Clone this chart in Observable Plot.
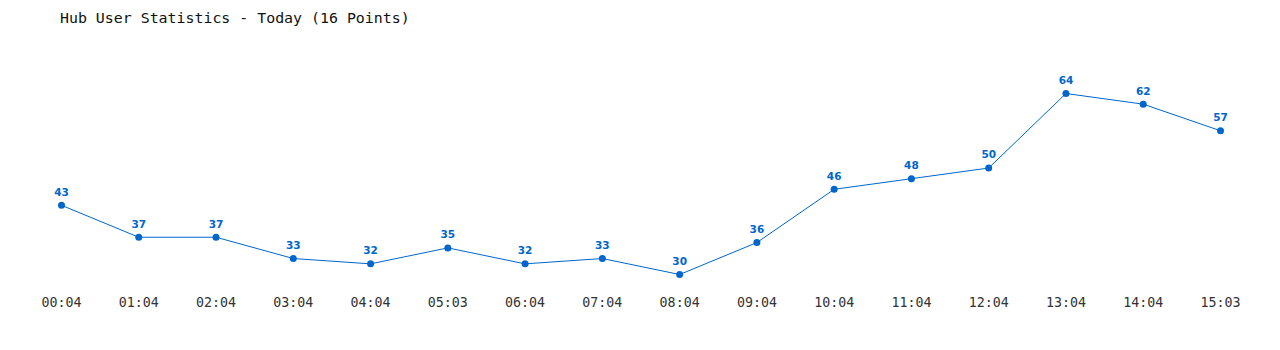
<!DOCTYPE html>
<html>
<head>
<meta charset="utf-8">
<script src="https://cdn.jsdelivr.net/npm/d3@7"></script>
<script src="https://cdn.jsdelivr.net/npm/@observablehq/plot@0.6"></script>
<style>
  body { margin: 0; background: #fff; }
  #title { height: 36px; line-height: 36px; padding-left: 60px; font-family: "DejaVu Sans Mono", monospace; font-size: 14.9px; color: #111; white-space: pre; }
  #chart svg { display: block; }
</style>
</head>
<body>
<div id="title">Hub User Statistics - Today (16 Points)</div>
<div id="chart"></div>
<script>
const times = ["00:04","01:04","02:04","03:04","04:04","05:03","06:04","07:04","08:04","09:04","10:04","11:04","12:04","13:04","14:04","15:03"];
const users = [43,37,37,33,32,35,32,33,30,36,46,48,50,64,62,57];

const data = times.map((t, i) => ({time: t, users: users[i]}));
const blue = "#0066cc";

const chart = Plot.plot({
  width: 1280,
  height: 314,
  marginTop: 0,
  marginBottom: 59,
  marginLeft: 0,
  marginRight: 0,
  style: {background: "#fff"},
  x: {type: "point", domain: times, range: [61, 1220], padding: 0, round: false, label: null},
  y: {domain: [30, 64], range: [238, 57], axis: null},
  marks: [
    Plot.axisX({tickSize: 0, tickPadding: 6, fontSize: 13.3, fontFamily: "DejaVu Sans Mono, monospace", fill: "#333", label: null}),
    Plot.line(data, {x: "time", y: "users", stroke: blue, strokeWidth: 1}),
    Plot.dot(data, {x: "time", y: "users", r: 3.5, fill: blue, stroke: "none"}),
    Plot.text(data, {x: "time", y: "users", text: d => String(d.users), dy: -13, fill: blue, fontWeight: "bold", fontSize: 10.5, fontFamily: "DejaVu Sans, sans-serif"})
  ]
});
document.getElementById("chart").appendChild(chart);
</script>
</body>
</html>
